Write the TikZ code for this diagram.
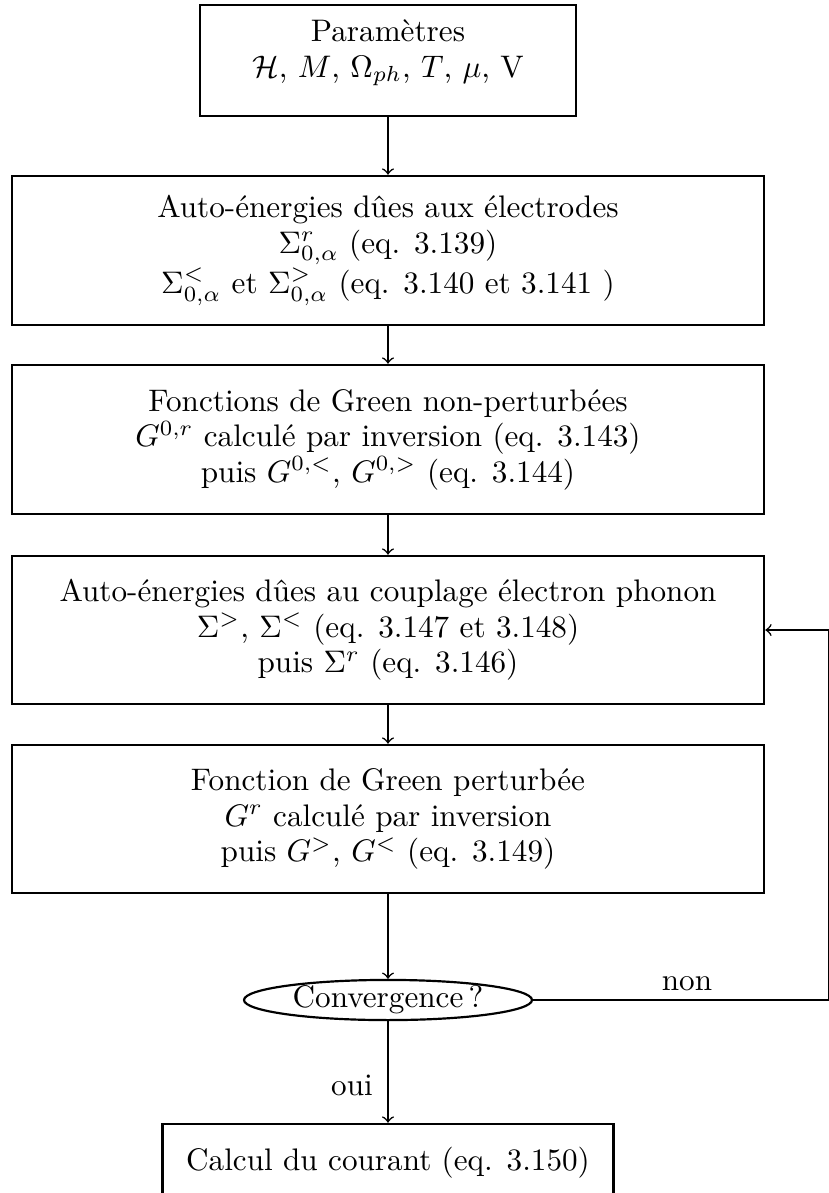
\documentclass[tikz,border=0pt]{standalone}
\usepackage{fontspec}
\usetikzlibrary{shapes.geometric}
\newcommand{\pxs}{0.3208pt}
\begin{document}
\begin{tikzpicture}[x=0.3208pt,y=-0.3208pt,
  font=\fontsize{10}{11.4}\selectfont,
  boxnode/.style={draw,line width=0.85pt,align=center,inner sep=0pt},
  ellnode/.style={draw,ellipse,line width=0.7pt,inner sep=0pt,minimum width=288*\pxs,minimum height=40*\pxs},
  arr/.style={->,line width=0.5pt},
  lab/.style={inner sep=0pt}]
\useasboundingbox (0,0) rectangle (829,1193);
\node[boxnode,minimum width=376*\pxs,minimum height=111*\pxs] (p) at (388,60.5)
  {Paramètres\\ $\mathcal{H}$, $M$, $\Omega_{ph}$, $T$, $\mu$, V\\[-3.8pt] \mbox{}};
\node[boxnode,minimum width=752*\pxs,minimum height=149*\pxs] (b2) at (388,250.5)
  {Auto-énergies dûes aux électrodes\\ $\Sigma^r_{0,\alpha}$ (eq. 3.139)\\ $\Sigma^<_{0,\alpha}$ et $\Sigma^>_{0,\alpha}$ (eq. 3.140 et 3.141 )};
\node[boxnode,minimum width=752*\pxs,minimum height=149*\pxs] (b3) at (388,439.5)
  {Fonctions de Green non-perturbées\\ $G^{0,r}$ calculé par inversion (eq. 3.143)\\ puis $G^{0,<}$, $G^{0,>}$ (eq. 3.144)};
\node[boxnode,minimum width=752*\pxs,minimum height=148*\pxs] (b4) at (388,630)
  {Auto-énergies dûes au couplage électron phonon\\ $\Sigma^>$, $\Sigma^<$ (eq. 3.147 et 3.148)\\ puis $\Sigma^r$ (eq. 3.146)};
\node[boxnode,minimum width=752*\pxs,minimum height=148*\pxs] (b5) at (388,819)
  {Fonction de Green perturbée\\ $G^r$ calculé par inversion\\ puis $G^>$, $G^<$ (eq. 3.149)};
\node[ellnode] (conv) at (388,1000) {Convergence\,?};
\node[boxnode,minimum width=451*\pxs,minimum height=106*\pxs] (b6) at (388,1177)
  {Calcul du courant (eq. 3.150)\\ \mbox{}};
\coordinate (c1) at (829,1000);
\coordinate (c2) at (829,630);
\draw[arr] (p) -- (b2);
\draw[arr] (b2) -- (b3);
\draw[arr] (b3) -- (b4);
\draw[arr] (b4) -- (b5);
\draw[arr] (b5) -- (conv);
\draw[arr] (conv) -- (b6);
\draw[arr] (conv.east) -- (c1) -- (c2) -- (b4.east);
\node[lab] (non) at (687,984) {non};
\node[lab] (oui) at (352,1085) {oui};
\end{tikzpicture}
\end{document}
